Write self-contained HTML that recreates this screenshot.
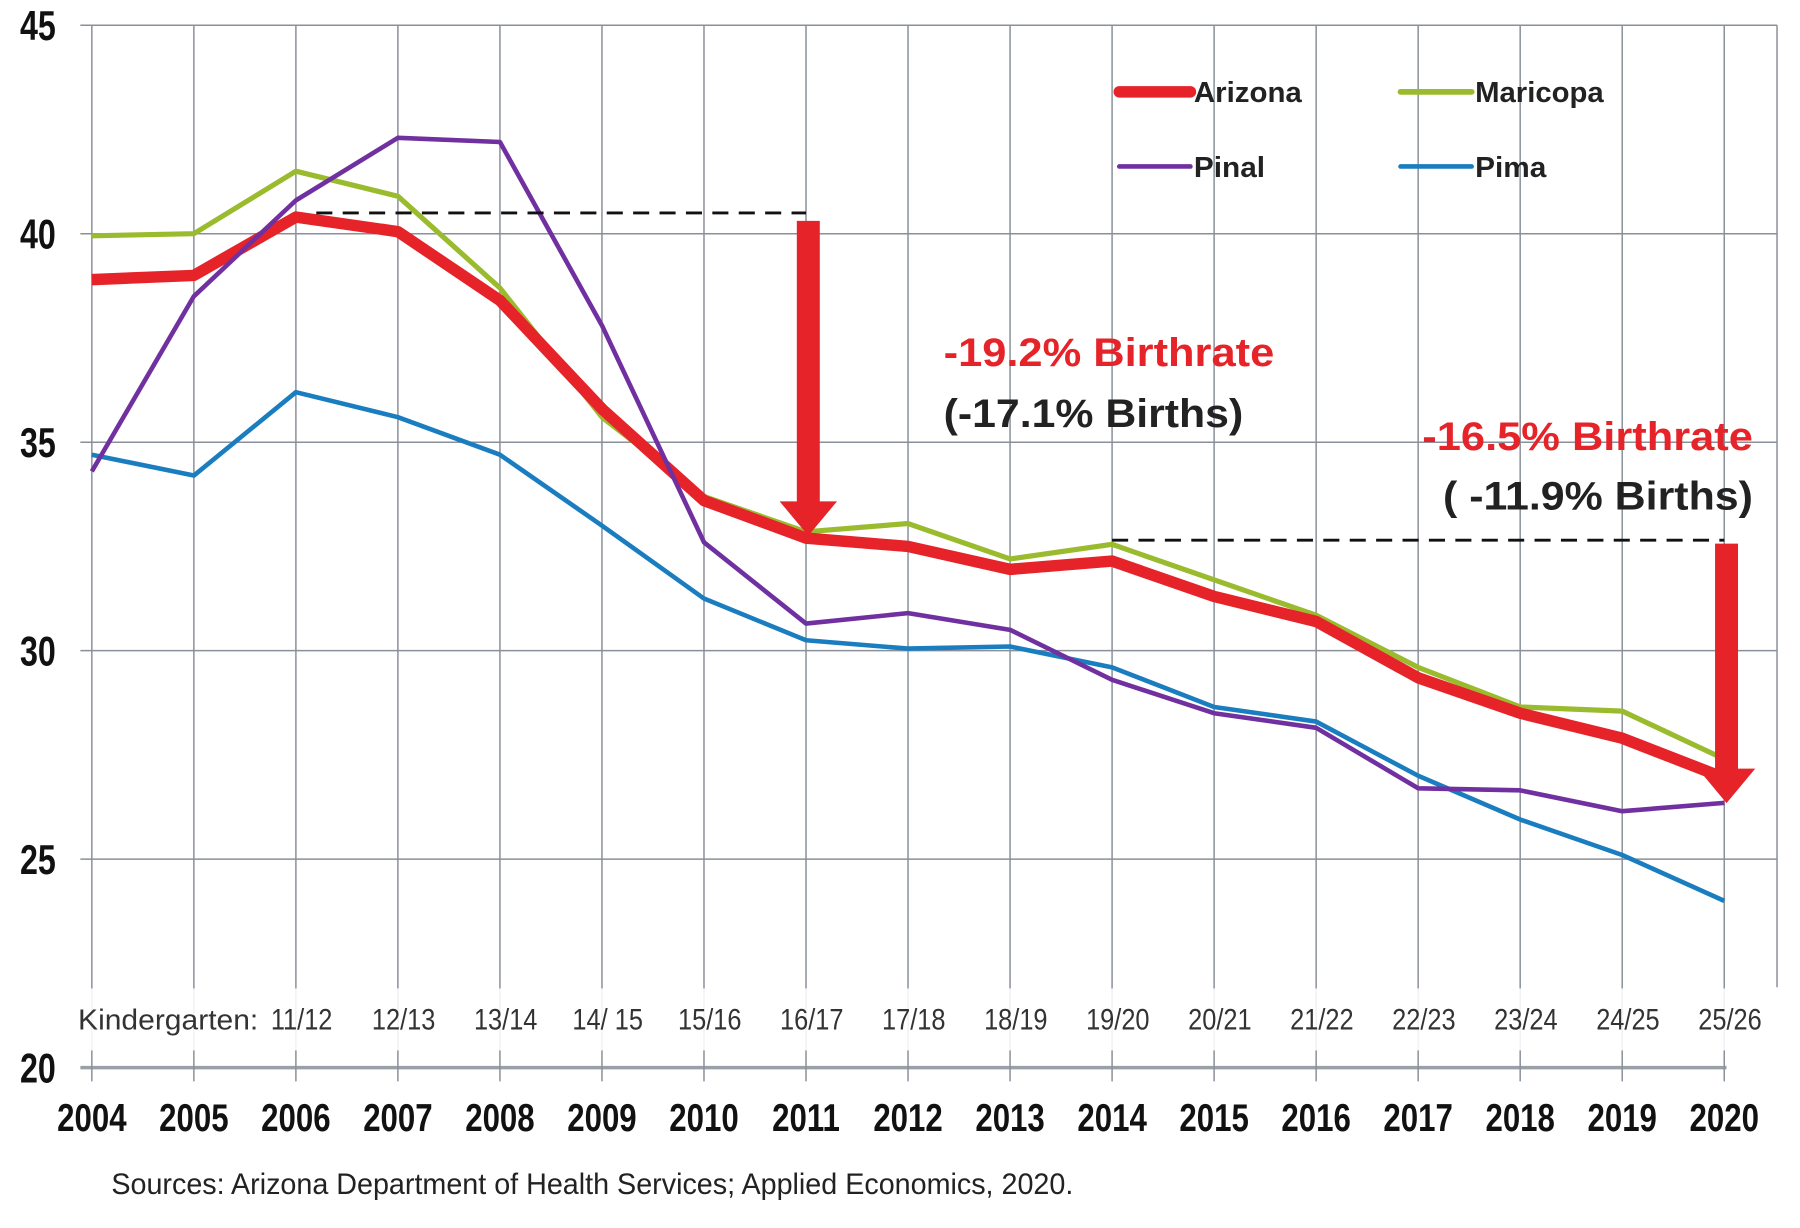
<!DOCTYPE html>
<html><head><meta charset="utf-8"><style>
html,body{margin:0;padding:0;background:#fff;}
svg{display:block;}
text{font-family:"Liberation Sans",sans-serif;}
</style></head><body>
<svg id="chart" width="1800" height="1228" viewBox="0 0 1568 1069.7" preserveAspectRatio="none" xmlns="http://www.w3.org/2000/svg">
<g id="grid"></g>
<g id="kband"></g>
<g id="series"></g>
<g id="annot"></g>
<g id="axes"></g>
<g id="legend"></g>
<text x="97" y="1040" font-size="26" fill="#222" textLength="838" lengthAdjust="spacingAndGlyphs">Sources: Arizona Department of Health Services; Applied Economics, 2020.</text>
</svg>
<script>
const years = [2004,2005,2006,2007,2008,2009,2010,2011,2012,2013,2014,2015,2016,2017,2018,2019,2020];
const kLabels = ["11/12","12/13","13/14","14/ 15","15/16","16/17","17/18","18/19","19/20","20/21","21/22","22/23","23/24","24/25","25/26"];
const yTicks = [20,25,30,35,40,45];
const arizona = [38.9,39.0,40.4,40.05,38.4,35.8,33.6,32.7,32.5,31.95,32.15,31.3,30.7,29.35,28.5,27.9,26.95];
const maricopa = [39.95,40.0,41.5,40.9,38.7,35.6,33.7,32.85,33.05,32.2,32.55,31.7,30.85,29.6,28.65,28.55,27.4];
const pinal = [34.3,38.5,40.8,42.3,42.2,37.8,32.6,30.65,30.9,30.5,29.3,28.5,28.15,26.7,26.65,26.15,26.35];
const pima = [34.7,34.2,36.2,35.6,34.7,33.0,31.25,30.25,30.05,30.1,29.6,28.65,28.3,27.0,25.95,25.1,24.0];
const ref1 = 40.5, ref2 = 32.65;

const NS="http://www.w3.org/2000/svg";
const X = i => 80 + i*(1502-80)/(years.length-1);
const Y = v => 22 + (45-v)*(930-22)/25;
function mk(parent, tag, attrs){const e=document.createElementNS(NS,tag);for(const k in attrs)e.setAttribute(k,attrs[k]);document.getElementById(parent).appendChild(e);return e;}

yTicks.forEach(t=>{
  const l=mk('grid','line',{x1:70,x2:t===20?1504:1548,y1:Y(t),y2:Y(t),stroke:t===20?'#9aa0a8':'#8a9099','stroke-width':t===20?3:1.3});
  
  
  const tx=mk('axes','text',{x:33,y:Y(t)+13,'font-size':36,'font-weight':'bold','text-anchor':'middle',fill:'#111',transform:`translate(33 0) scale(0.78 1) translate(-33 0)`});
  tx.textContent=t;
  
  
});
years.forEach((yr,i)=>{
  const l=mk('grid','line',{x1:X(i),x2:X(i),y1:22,y2:942,stroke:'#8a9099','stroke-width':1.3});
  
  
  const tx=mk('axes','text',{x:X(i),y:985,'font-size':34,'font-weight':'bold','text-anchor':'middle',fill:'#111',transform:`translate(${X(i)} 0) scale(0.8 1) translate(${-X(i)} 0)`});
  tx.textContent=yr;
  
  
});
{const l=mk('grid','line',{x1:1548,x2:1548,y1:22,y2:860,stroke:'#8a9099','stroke-width':1.3});

}

{const r=mk('kband','rect',{x:68,y:861,width:1480,height:54,fill:'#fff','fill-opacity':0.88});


const t=mk('kband','text',{x:68,y:897,'font-size':25,fill:'#333',textLength:157,lengthAdjust:'spacingAndGlyphs'});
t.textContent='Kindergarten:';


kLabels.forEach((s,j)=>{
  const cx=X(j+2)+5;
  const e=mk('kband','text',{x:cx,y:897,'font-size':26,fill:'#333','text-anchor':'middle',transform:`translate(${cx} 0) scale(0.85 1) translate(${-cx} 0)`});
  e.textContent=s;
  
  
});}

function line(data,color,w,name){
  const p=mk('series','polyline',{points:data.map((v,i)=>X(i)+','+Y(v)).join(' '),fill:'none',stroke:color,'stroke-width':w,'stroke-linejoin':'round'});
  
  
}
line(pima,'#1a7dc0',4,'pima-line');
line(maricopa,'#9bbb2f',4.5,'maricopa-line');
line(arizona,'#e52329',10,'arizona-line');
line(pinal,'#7030a0',4,'pinal-line');

function dash(i1,i2,v,name){const l=mk('annot','line',{x1:X(i1),x2:X(i2),y1:Y(v),y2:Y(v),stroke:'#111','stroke-width':2.5,'stroke-dasharray':'14 9'});

}
dash(2.2,7,ref1,'reference-line-2006');
dash(10,16,ref2,'reference-line-2014');
function arrow(x,y1,y2,name){
  const sw=10,hw=25,hh=30;
  const a=mk('annot','polygon',{points:`${x-sw},${y1} ${x+sw},${y1} ${x+sw},${y2-hh} ${x+hw},${y2-hh} ${x},${y2} ${x-hw},${y2-hh} ${x-sw},${y2-hh}`,fill:'#e52329'});
  
  
}
arrow(X(7)+2,Y(ref1)+7,Y(32.7)-2,'decline-arrow-2011');
arrow(X(16)+2,Y(ref2)+3,Y(26.4)+2,'decline-arrow-2020');
function txt(x,y,s,color,len,name){const t=mk('annot','text',{x:x,y:y,'font-size':35,'font-weight':'bold',fill:color,textLength:len,lengthAdjust:'spacingAndGlyphs'});t.textContent=s;

}
txt(822,319,'-19.2% Birthrate','#e52329',288,'birthrate-change-label-1');
txt(822,372,'(-17.1% Births)','#222',261,'births-change-label-1');
txt(1239,392,'-16.5% Birthrate','#e52329',288,'birthrate-change-label-2');
txt(1257,444,'( -11.9% Births)','#222',270,'births-change-label-2');

[['Arizona','#e52329',10,975,80,94],['Maricopa','#9bbb2f',5,1220,80,112],['Pinal','#7030a0',4,975,145,62],['Pima','#1a7dc0',4,1220,145,62]].forEach(d=>{
  const l=mk('legend','line',{x1:d[3],x2:d[3]+62,y1:d[4],y2:d[4],stroke:d[1],'stroke-width':d[2],'stroke-linecap':'round'});
  
  
  const t=mk('legend','text',{x:d[3]+65,y:d[4]+9,'font-size':25,'font-weight':'bold',fill:'#222',textLength:d[5],lengthAdjust:'spacingAndGlyphs'});
  t.textContent=d[0];
  
  
});
</script>
</body></html>
